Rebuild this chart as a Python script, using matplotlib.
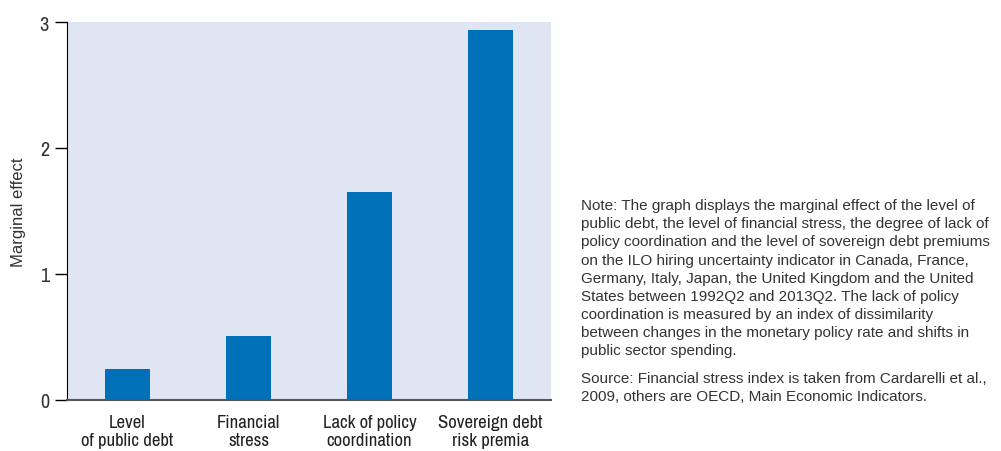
import matplotlib.pyplot as plt

categories = ["Level\nof public debt", "Financial\nstress", "Lack of policy\ncoordination", "Sovereign debt\nrisk premia"]
values = [0.25, 0.51, 1.65, 2.94]
yticks = [0, 1, 2, 3]

note = ("Note: The graph displays the marginal effect of the level of\n"
        "public debt, the level of financial stress, the degree of lack of\n"
        "policy coordination and the level of sovereign debt premiums\n"
        "on the ILO hiring uncertainty indicator in Canada, France,\n"
        "Germany, Italy, Japan, the United Kingdom and the United\n"
        "States between 1992Q2 and 2013Q2. The lack of policy\n"
        "coordination is measured by an index of dissimilarity\n"
        "between changes in the monetary policy rate and shifts in\n"
        "public sector spending.")
source = ("Source: Financial stress index is taken from Cardarelli et al.,\n"
          "2009, others are OECD, Main Economic Indicators.")

plt.rcParams['font.family'] = ['Archivo Narrow', 'DejaVu Sans']

fig = plt.figure(figsize=(10.01, 4.52), dpi=100)
ax = fig.add_axes([67/1001, 1 - 401/452, 484/1001, 378/452])
ax.set_facecolor('#dfe5f2')

x = range(len(categories))
ax.bar(x, values, width=0.38, color='#0070b8')
ax.set_xlim(-0.5, 3.5)
ax.set_ylim(0, 3)
ax.set_yticks(yticks)
ax.set_xticks(list(x))
ax.set_xticklabels(categories, fontsize=13.5, color='#222222', linespacing=1.2)
ax.tick_params(axis='x', length=0, pad=10)
ax.tick_params(axis='y', length=9, width=1, labelsize=14.5, labelcolor='#333333', pad=4)
ax.set_ylabel("Marginal effect", fontsize=12, color='#333333', labelpad=10,
              family='Liberation Sans')

ax.spines['top'].set_visible(False)
ax.spines['right'].set_visible(False)
ax.spines['left'].set_color('black')
ax.spines['bottom'].set_color('#555555')
ax.spines['bottom'].set_linewidth(1.5)

fig.text(581/1001, 1 - 199/452, note, fontsize=11, color='#333333', va='top',
         linespacing=1.38, family='Liberation Sans')
fig.text(581/1001, 1 - 372/452, source, fontsize=11, color='#333333', va='top',
         linespacing=1.38, family='Liberation Sans')

fig.savefig("out.png", dpi=100)
